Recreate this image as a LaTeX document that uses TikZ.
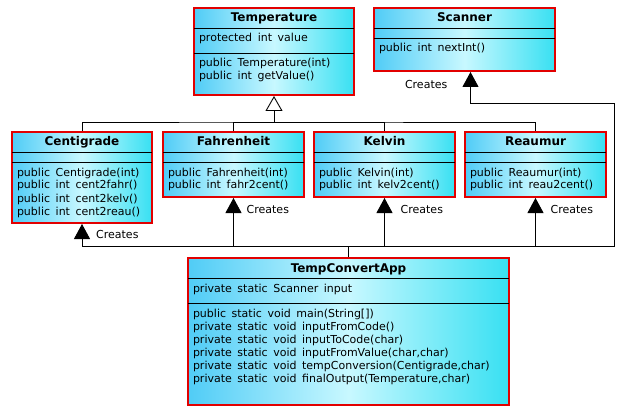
\documentclass[tikz,border=0pt]{standalone}
\usepackage{fontspec}
\usepackage{tikz}
\usetikzlibrary{shapes.multipart, arrows.meta, positioning}

\newfontfamily\umlfont[WordSpace=1.6]{DejaVu Sans}
\newcommand{\classname}[1]{{\bfseries\fontsize{12}{14}\selectfont\rule[-5pt]{0pt}{18pt}#1}}
\newcommand{\members}[2][7pt]{\begin{tabular}[t]{@{}l@{}}\rule{0pt}{13pt}#2\rule[-#1]{0pt}{#1}\end{tabular}}
\newcommand{\nomembers}{\rule{0pt}{8pt}}

\definecolor{umlcyan}{RGB}{80,204,246}
\definecolor{umlaqua}{RGB}{56,224,242}
\definecolor{umllight}{RGB}{200,248,255}
\definecolor{umlred}{RGB}{226,0,0}

\begin{document}
\begin{tikzpicture}[
    x=1pt, y=-1pt,
    umlclass/.style={rectangle split, rectangle split parts=3, draw=umlred, line width=2pt,
        rectangle split draw splits=false,
        left color=umlcyan, right color=umlaqua, middle color=umllight,
        font=\umlfont\fontsize{11}{13}\selectfont,
        rectangle split part align={center,left,left},
        inner xsep=5pt, inner ysep=0pt, anchor=north west},
    splitline/.style={line width=0.9pt, shorten <=1pt, shorten >=1pt},
    link/.style={line width=0.9pt},
    inherit/.style={link, -{Triangle[open, length=15pt, width=17pt, line width=0.9pt]}},
    creates/.style={link, -{Triangle[length=15pt, width=16pt]}},
    createslabel/.style={inner sep=0pt, font=\umlfont\fontsize{11}{13}\selectfont}
]
\useasboundingbox (0,0) rectangle (623,414);

% classes
\node[umlclass, minimum width=160pt] (temp) at (193,7)
    {\classname{Temperature}
     \nodepart{two} \members[10pt]{protected int value}
     \nodepart{three} \members[14pt]{public Temperature(int)\\public int getValue()}};
\node[umlclass, minimum width=181pt] (scan) at (373,7)
    {\classname{Scanner}
     \nodepart{two} \nomembers
     \nodepart{three} \members[18pt]{public int nextInt()}};

\node[umlclass, minimum width=140pt] (cent) at (11,131)
    {\classname{Centigrade}
     \nodepart{two} \nomembers
     \nodepart{three} \members{public Centigrade(int)\\public int cent2fahr()\\public int cent2kelv()\\public int cent2reau()}};
\node[umlclass, minimum width=141pt, right=9pt of cent.north east, anchor=north west] (fahr)
    {\classname{Fahrenheit}
     \nodepart{two} \nomembers
     \nodepart{three} \members{public Fahrenheit(int)\\public int fahr2cent()}};
\node[umlclass, minimum width=141pt, right=8pt of fahr.north east, anchor=north west] (kelv)
    {\classname{Kelvin}
     \nodepart{two} \nomembers
     \nodepart{three} \members{public Kelvin(int)\\public int kelv2cent()}};
\node[umlclass, minimum width=141pt, right=8pt of kelv.north east, anchor=north west] (reau)
    {\classname{Reaumur}
     \nodepart{two} \nomembers
     \nodepart{three} \members{public Reaumur(int)\\public int reau2cent()}};

\node[umlclass, minimum width=321pt] (app) at (187,257)
    {\classname{TempConvertApp}
     \nodepart{two} \members[10pt]{private static Scanner input}
     \nodepart{three} \members[22pt]{public static void main(String[])\\private static void inputFromCode()\\private static void inputToCode(char)\\private static void inputFromValue(char,char)\\private static void tempConversion(Centigrade,char)\\private static void finalOutput(Temperature,char)}};

\foreach \cls in {temp,scan,cent,fahr,kelv,reau,app} {
    \draw[splitline] (\cls.text split west) -- (\cls.text split east);
    \draw[splitline] (\cls.two split west) -- (\cls.two split east);
}

% inheritance
\coordinate[below=26pt of temp.south] (hier);
\draw[link] (cent.north) |- (hier) -| (reau.north);
\draw[link] (fahr.north) |- (hier);
\draw[link] (kelv.north) |- (hier);
\draw[inherit] (hier) -- (temp.south);

% creates
\coordinate[above=11pt of app.north] (bus);
\coordinate[right=266pt of bus] (busend);
\coordinate (scanin) at ([xshift=6pt]scan.south);
\coordinate[below=31pt of scanin] (scanturn);
\draw[link] (app.north) -- (bus);
\draw[creates] (bus) -| (cent.south);
\draw[creates] (bus) -| (fahr.south);
\draw[creates] (bus) -| (kelv.south);
\draw[creates] (bus) -| (reau.south);
\draw[creates] (bus) -- (busend) |- (scanturn) -- (scanin);

\node[createslabel, below right=6pt and 14pt of cent.south] (lcent) {Creates};
\node[createslabel, below right=7pt and 13pt of fahr.south] (lfahr) {Creates};
\node[createslabel, below right=7pt and 16pt of kelv.south] (lkelv) {Creates};
\node[createslabel, below right=7pt and 15pt of reau.south] (lreau) {Creates};
\node[createslabel, below left=8pt and 23pt of scanin] (lscan) {Creates};

\end{tikzpicture}
\end{document}
